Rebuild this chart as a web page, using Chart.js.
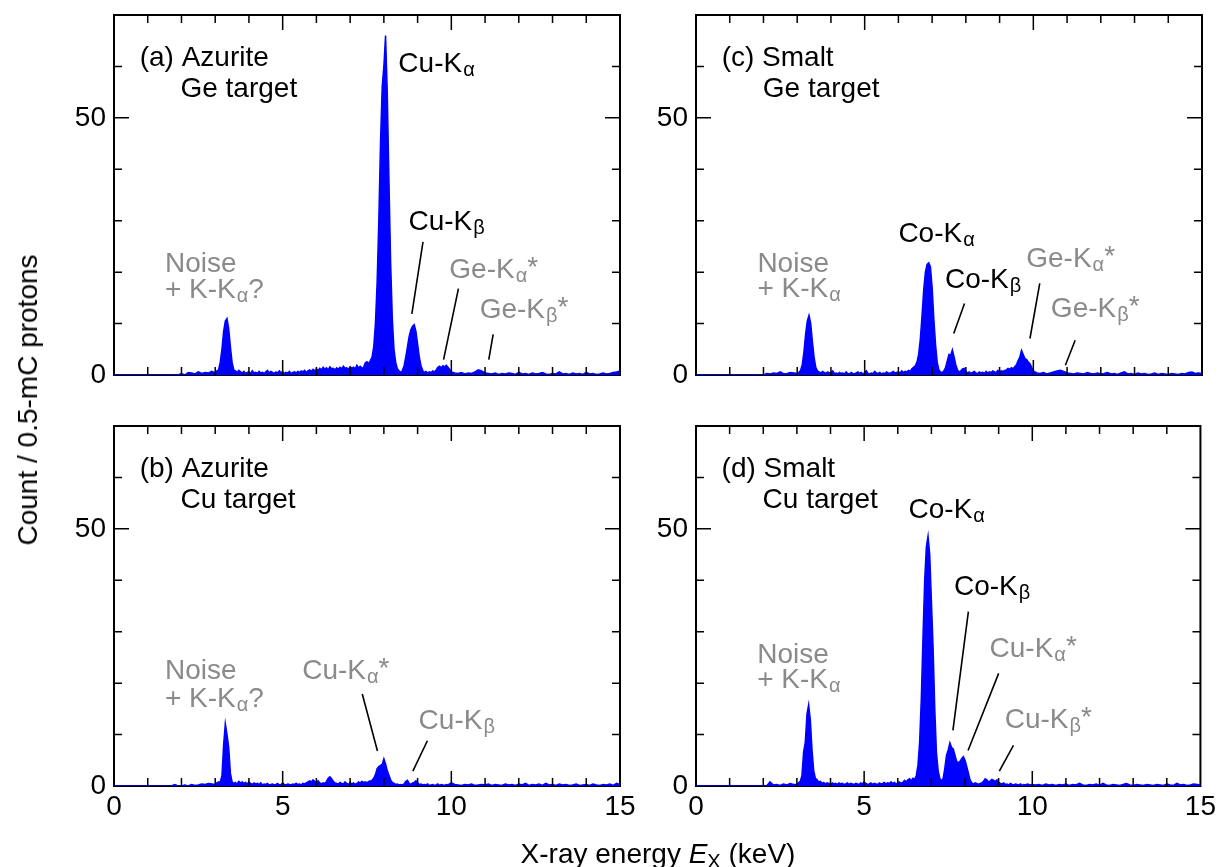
<!DOCTYPE html>
<html>
<head>
<meta charset="utf-8">
<script src="https://cdn.jsdelivr.net/npm/chart.js@4.4.1/dist/chart.umd.min.js"></script>
<style>
  html, body { margin:0; padding:0; background:#fff; }
  body { width:1220px; height:867px; position:relative; overflow:hidden; font-family:"Liberation Sans", Arial, sans-serif; }
  canvas { position:absolute; }
  #ytitle { position:absolute; left:28px; top:400px; transform:translate(-50%,-50%) rotate(-90deg); white-space:nowrap; font-size:28px; line-height:28px; color:#000; }
  #xtitle { position:absolute; left:658px; top:840px; transform:translateX(-50%); white-space:nowrap; font-size:28px; line-height:28px; color:#000; }
  #xtitle sub { font-size:20px; vertical-align:-5px; line-height:0; }
</style>
</head>
<body>
<canvas id="pa" width="650" height="440" style="left:0px;top:-20px;width:650px;height:440px"></canvas>
<canvas id="pc" width="580" height="440" style="left:640px;top:-20px;width:580px;height:440px"></canvas>
<canvas id="pb" width="650" height="467" style="left:0px;top:400px;width:650px;height:467px"></canvas>
<canvas id="pd" width="580" height="467" style="left:640px;top:400px;width:580px;height:467px"></canvas>
<div id="ytitle">Count / 0.5-mC protons</div>
<div id="xtitle">X-ray energy <i>E</i><sub>X</sub> (keV)</div>
<script>
// ---------- DATA ----------
const xTickLabels = [0, 5, 10, 15];
const yTickLabels = [0, 50];

// shared energy grid (keV)
const energy = [
  0,0.1,0.2,0.3,0.4,0.5,0.6,0.7,0.8,0.9,
  1,1.1,1.2,1.3,1.4,1.5,1.6,1.7,1.8,1.9,
  2,2.1,2.2,2.3,2.4,2.5,2.6,2.7,2.8,2.9,
  3,3.05,3.1,3.15,3.2,3.25,3.3,3.35,3.4,3.45,3.5,3.55,3.6,3.65,3.7,3.75,3.8,3.85,3.9,3.95,
  4,4.05,4.1,4.15,4.2,4.25,4.3,4.35,4.4,4.45,4.5,4.55,4.6,4.65,4.7,4.75,4.8,4.85,4.9,4.95,
  5,5.05,5.1,5.15,5.2,5.25,5.3,5.35,5.4,5.45,5.5,5.55,5.6,5.65,5.7,5.75,5.8,5.85,5.9,5.95,
  6,6.05,6.1,6.15,6.2,6.25,6.3,6.35,6.4,6.45,6.5,6.55,6.6,6.65,6.7,6.75,6.8,6.85,6.9,6.95,
  7,7.05,7.1,7.15,7.2,7.25,7.3,7.35,7.4,7.45,7.5,7.55,7.6,7.65,7.7,7.75,7.8,7.85,7.9,7.95,
  8,8.05,8.1,8.15,8.2,8.25,8.3,8.35,8.4,8.45,8.5,8.55,8.6,8.65,8.7,8.75,8.8,8.85,8.9,8.95,
  9,9.05,9.1,9.15,9.2,9.25,9.3,9.35,9.4,9.45,9.5,9.55,9.6,9.65,9.7,9.75,9.8,9.85,9.9,9.95,
  10,
  10.1,10.2,10.3,10.4,10.5,10.6,10.7,10.8,10.9,11,
  11.1,11.2,11.3,11.4,11.5,11.6,11.7,11.8,11.9,12,
  12.1,12.2,12.3,12.4,12.5,12.6,12.7,12.8,12.9,13,
  13.1,13.2,13.3,13.4,13.5,13.6,13.7,13.8,13.9,14,
  14.1,14.2,14.3,14.4,14.5,14.6,14.7,14.8,14.9,15
];

// (a) Azurite, Ge target
const countsA = [
  0,0,0,0,0,0,0,0,0,0,
  0,0,0,0,0,0,0,0,0,0,
  0.3,0,0.5,0.4,0.2,0.6,0.3,0.5,0.4,0.7,
  0.4,0.8,1.0,2.5,5.0,8.5,10.5,11.0,9.0,5.5,2.5,1.0,0.8,0.5,0.9,0.6,0.4,0.7,0.3,0.5,
  0.6,0.3,0.8,0.4,0.5,0.3,0.7,0.4,0.5,0.3,0.6,0.9,0.4,0.7,0.5,0.3,0.6,0.4,0.8,0.5,
  0.6,0.3,0.5,0.4,0.7,0.3,0.5,0.6,0.4,0.7,0.5,0.8,0.6,0.9,0.5,0.8,1.0,0.7,1.1,0.8,
  1.2,0.9,1.3,1.0,1.5,1.1,1.4,1.0,1.6,1.2,1.3,1.0,1.4,1.1,1.5,1.2,1.7,1.3,1.4,1.1,
  1.6,1.3,1.5,1.2,1.9,1.4,1.7,1.3,1.5,2.4,2.6,2.2,2.8,3.5,5.5,10.0,18.0,30.0,45.0,56.0,
  60.0,66.0,55.0,38.0,22.0,11.0,5.0,2.5,1.2,0.8,0.5,0.9,1.8,3.5,5.5,7.5,8.8,9.5,9.8,8.5,
  6.0,3.5,1.8,0.9,0.5,0.7,0.4,0.6,0.5,0.8,0.6,1.0,1.5,1.7,1.4,1.8,1.6,1.9,1.5,1.1,
  0.6,
  0.4,0.3,0.5,0.2,0.4,0.3,0.6,1.0,0.8,0.4,
  0.3,0.2,0.4,0.1,0.3,0.2,0.4,0.3,0.1,0.5,
  0.2,0.3,0.1,0.4,0.2,0.3,0.5,0.2,0.1,0.3,
  0.2,0.6,0.2,0.3,0.1,0.4,0.2,0.3,0.1,0.5,
  0.2,0.3,0.1,0.2,0.4,0.2,0.3,0.5,0.6,0.8
];

// (b) Azurite, Cu target
const countsB = [
  0,0,0,0,0,0,0,0,0,0,
  0,0,0,0,0,0,0,0,0.3,0,
  0,0.2,0,0.3,0.1,0.2,0.4,0.3,0.5,0.4,
  0.3,0.6,0.8,0.8,2.0,8.0,12.1,10.0,7.5,2.5,0.8,0.5,0.7,0.4,0.9,0.6,0.8,0.5,0.7,0.4,
  0.8,0.5,0.3,0.6,0.4,0.5,0.3,0.6,0.2,0.4,0.3,0.5,0.2,0.3,0.4,0.2,0.3,0.5,0.2,0.3,
  0.6,0.3,0.2,0.4,0.3,0.2,0.4,0.3,0.5,0.3,0.4,0.2,0.5,0.4,0.6,0.8,1.0,0.8,1.2,0.9,
  0.7,1.0,0.6,0.4,0.6,0.5,0.9,1.5,1.8,1.4,0.9,0.6,0.5,0.4,0.7,0.5,0.4,0.8,0.5,0.3,
  0.7,0.4,0.6,0.3,0.5,0.8,0.6,0.9,0.7,0.8,0.6,0.9,1.0,1.1,1.5,2.2,3.4,3.8,4.0,4.2,
  5.3,4.3,3.0,2.1,1.2,0.7,0.5,0.3,0.4,0.2,0.3,0.2,0.4,0.9,1.1,0.5,0.3,0.6,0.7,1.0,
  0.6,0.3,0.4,0.2,0.3,0.2,0.4,0.1,0.2,0.3,0.1,0.2,0.4,0.1,0.3,0.2,0.1,0.3,0.2,0.4,
  0.6,
  0.3,0.2,0.1,0.3,0.2,0.4,0.1,0.2,0.3,0.2,
  0.4,0.1,0.3,0.2,0.1,0.4,0.2,0.3,0.1,0.4,
  0.2,0.5,0.1,0.3,0.2,0.4,0.1,0.5,0.2,0.3,
  0.1,0.4,0.2,0.3,0.1,0.2,0.4,0.1,0.2,0.3,
  0.1,0.4,0.2,0.1,0.3,0.2,0.4,0.1,0.5,0.3
];

// (c) Smalt, Ge target
const countsC = [
  0,0,0,0,0,0,0,0,0,0,
  0,0,0,0,0,0,0,0,0,0,
  0,0.3,0.2,0.4,0.3,0.6,0.2,0.3,0.5,0.4,
  0.3,0.5,0.9,2.0,4.5,8.0,10.5,11.6,10.0,6.5,3.5,1.5,0.8,0.6,0.4,0.7,0.5,0.3,0.6,0.4,
  0.5,0.8,0.3,0.4,0.2,0.5,0.3,0.4,0.2,0.6,0.3,0.2,0.5,0.3,0.2,0.4,0.6,0.3,0.5,0.2,
  0.4,0.8,0.3,0.2,0.4,0.3,0.7,0.4,0.3,0.5,0.2,0.4,0.3,0.6,0.4,0.3,0.5,0.7,0.4,0.5,
  0.6,0.4,0.8,0.5,0.7,0.6,0.9,0.7,1.2,1.5,1.8,2.5,4.0,7.0,11.5,16.5,20.0,21.5,21.8,21.0,
  17.0,11.0,6.0,2.5,1.0,0.6,0.5,0.8,1.5,2.8,4.0,3.8,4.9,3.5,2.0,1.0,0.6,0.8,1.2,1.3,
  0.7,0.4,0.6,0.3,0.5,0.7,0.4,0.3,0.6,0.4,0.5,0.3,0.7,0.4,0.6,0.5,0.8,0.6,0.5,0.9,
  0.6,0.8,0.7,0.9,1.0,1.3,1.1,1.4,1.2,1.6,2.0,2.8,3.5,4.8,4.0,3.2,3.0,2.5,2.2,1.5,
  0.8,
  0.4,0.3,0.5,0.2,0.4,0.6,0.8,0.9,0.7,0.4,
  0.3,0.2,0.4,0.3,0.2,0.5,0.3,0.2,0.4,0.2,
  0.3,0.5,0.2,0.3,0.1,0.4,0.6,0.2,0.3,0.1,
  0.4,0.2,0.3,0.1,0.2,0.4,0.1,0.3,0.2,0.1,
  0.3,0.2,0.1,0.3,0.2,0.5,0.6,0.3,0.4,0.3
];

// (d) Smalt, Cu target
const countsD = [
  0,0,0,0,0,0,0,0,0,0,
  0,0,0,0,0,0,0,0,0,0,
  0,0,0.8,0.2,0.3,0.1,0.4,0.2,0.5,0.3,
  0.3,0.6,0.9,2.0,6.6,8.5,14.0,15.8,12.8,7.0,3.0,1.5,1.2,0.8,0.9,0.5,0.7,0.4,0.6,0.5,
  0.3,0.6,0.4,0.5,0.3,0.6,0.4,0.5,0.3,0.4,0.6,0.3,0.5,0.4,0.3,0.5,0.4,0.3,0.6,0.4,
  0.8,0.5,0.3,0.4,0.6,0.3,0.5,0.4,0.3,0.6,0.4,0.5,0.7,0.4,0.6,0.5,0.8,0.5,0.7,0.4,
  0.6,0.8,0.5,0.7,1.1,0.8,1.2,1.4,1.0,1.5,1.3,2.0,4.0,8.5,17.0,29.0,40.0,46.5,48.6,45.0,
  36.0,27.0,15.0,6.5,3.0,1.5,1.0,1.5,3.5,6.0,7.0,8.4,7.5,7.2,6.0,4.8,4.5,4.8,5.3,5.7,
  5.0,3.8,2.5,1.2,0.6,0.4,0.6,0.5,0.3,0.5,0.6,0.9,1.4,1.2,0.8,1.0,1.3,1.1,0.9,1.2,
  0.7,0.5,0.4,0.6,0.3,0.4,0.2,0.5,0.3,0.2,0.4,0.3,0.2,0.4,0.1,0.3,0.2,0.4,0.3,0.2,
  0.3,
  0.2,0.3,0.1,0.4,0.2,0.3,0.1,0.3,0.2,0.4,
  0.1,0.3,0.2,0.5,0.2,0.1,0.3,0.2,0.4,0.1,
  0.5,0.2,0.1,0.3,0.2,0.1,0.3,0.5,0.2,0.1,
  0.3,0.2,0.1,0.3,0.2,0.1,0.3,0.2,0.1,0.4,
  0.2,0.1,0.5,0.2,0.3,0.1,0.2,0.4,0.3,0.2
];

// annotations: text, subscript, suffix, anchor energy, anchor count (baseline-left), colour
const BLACK = '#000000', GRAY = '#8a8a8a';
const notesA = [
  {t:'(a) Azurite', e:0.76, c:60.0, col:BLACK},
  {t:'Ge target', e:1.97, c:54.0, col:BLACK},
  {t:'Cu-K', sub:'α', e:8.43, c:59.0, col:BLACK},
  {t:'Cu-K', sub:'β', e:8.73, c:28.2, col:BLACK},
  {t:'Noise', e:1.51, c:20.1, col:GRAY},
  {t:'+ K-K', sub:'α', suf:'?', e:1.51, c:15.0, col:GRAY},
  {t:'Ge-K', sub:'α', suf:'*', e:9.94, c:18.9, col:GRAY},
  {t:'Ge-K', sub:'β', suf:'*', e:10.84, c:11.0, col:GRAY}
];
const linesA = [[9.16,25.9,8.83,11.9],[10.21,16.8,9.77,3.0],[11.24,7.9,11.11,3.0]];

const notesB = [
  {t:'(b) Azurite', e:0.76, c:60.1, col:BLACK},
  {t:'Cu target', e:1.97, c:54.0, col:BLACK},
  {t:'Noise', e:1.51, c:20.9, col:GRAY},
  {t:'+ K-K', sub:'α', suf:'?', e:1.51, c:15.3, col:GRAY},
  {t:'Cu-K', sub:'α', suf:'*', e:5.58, c:20.9, col:GRAY},
  {t:'Cu-K', sub:'β', e:9.03, c:11.0, col:GRAY}
];
const linesB = [[7.36,17.9,7.81,6.8],[9.29,8.8,8.86,2.9]];

const notesC = [
  {t:'(c) Smalt', e:0.76, c:60.0, col:BLACK},
  {t:'Ge target', e:1.98, c:54.0, col:BLACK},
  {t:'Noise', e:1.82, c:20.1, col:GRAY},
  {t:'+ K-K', sub:'α', e:1.82, c:15.1, col:GRAY},
  {t:'Co-K', sub:'α', e:6.0, c:25.9, col:BLACK},
  {t:'Co-K', sub:'β', e:7.38, c:17.0, col:BLACK},
  {t:'Ge-K', sub:'α', suf:'*', e:9.79, c:21.0, col:GRAY},
  {t:'Ge-K', sub:'β', suf:'*', e:10.52, c:11.2, col:GRAY}
];
const linesC = [[7.96,13.9,7.64,8.05],[10.19,17.8,9.90,7.1],[11.24,6.75,10.95,1.9]];

const notesD = [
  {t:'(d) Smalt', e:0.76, c:60.1, col:BLACK},
  {t:'Cu target', e:1.98, c:54.0, col:BLACK},
  {t:'Co-K', sub:'α', e:6.32, c:52.1, col:BLACK},
  {t:'Co-K', sub:'β', e:7.67, c:37.1, col:BLACK},
  {t:'Noise', e:1.82, c:24.0, col:GRAY},
  {t:'+ K-K', sub:'α', e:1.82, c:19.0, col:GRAY},
  {t:'Cu-K', sub:'α', suf:'*', e:8.73, c:25.0, col:GRAY},
  {t:'Cu-K', sub:'β', suf:'*', e:9.18, c:11.2, col:GRAY}
];
const linesD = [[8.10,33.9,7.64,10.8],[9.0,21.9,8.09,6.9],[9.44,7.9,9.02,2.9]];

// ---------- DRAWING ----------
const FONT = '"Liberation Sans", Arial, sans-serif';
Chart.defaults.font.family = FONT;
Chart.defaults.color = '#000';

const framePlugin = {
  id: 'frame',
  beforeDatasetsDraw(chart) {
    const {ctx, chartArea: a} = chart;
    ctx.save();
    ctx.strokeStyle = '#000';
    ctx.lineWidth = 2;
    ctx.strokeRect(a.left, a.top, a.right - a.left, a.bottom - a.top);
    ctx.restore();
  },
  afterDatasetsDraw(chart, args, opts) {
    const {ctx, chartArea: a, scales: {x, y}} = chart;
    ctx.save();
    ctx.strokeStyle = '#000';
    ctx.lineWidth = 1.5;
    ctx.beginPath();
    x.ticks.forEach(t => {
      const px = x.getPixelForValue(t.value);
      if (px <= a.left + 1 || px >= a.right - 1) return;
      const len = (t.value % 5 === 0) ? 15 : 8;
      ctx.moveTo(px, a.bottom); ctx.lineTo(px, a.bottom - len);
      ctx.moveTo(px, a.top); ctx.lineTo(px, a.top + len);
    });
    y.ticks.forEach(t => {
      const py = y.getPixelForValue(t.value);
      if (py <= a.top + 1 || py >= a.bottom - 1) return;
      const len = (t.value % 50 === 0) ? 15 : 8;
      ctx.moveTo(a.left, py); ctx.lineTo(a.left + len, py);
      ctx.moveTo(a.right, py); ctx.lineTo(a.right - len, py);
    });
    ctx.stroke();
    // leader lines
    ctx.lineWidth = 1.6;
    ctx.beginPath();
    (opts.lines || []).forEach(l => {
      ctx.moveTo(x.getPixelForValue(l[0]), y.getPixelForValue(l[1]));
      ctx.lineTo(x.getPixelForValue(l[2]), y.getPixelForValue(l[3]));
    });
    ctx.stroke();
    // labels
    ctx.textAlign = 'left';
    ctx.textBaseline = 'alphabetic';
    (opts.notes || []).forEach(n => {
      let px = x.getPixelForValue(n.e);
      const py = y.getPixelForValue(n.c);
      ctx.fillStyle = n.col;
      ctx.font = '28px ' + FONT;
      ctx.fillText(n.t, px, py);
      px += ctx.measureText(n.t).width;
      if (n.sub) {
        ctx.font = '20px ' + FONT;
        ctx.fillText(n.sub, px + 1, py + 4);
        px += ctx.measureText(n.sub).width + 1;
      }
      if (n.suf) {
        ctx.font = '28px ' + FONT;
        ctx.fillText(n.suf, px, py - (n.suf === '*' ? 2 : 0));
      }
    });
    ctx.restore();
  }
};

function makePanel(id, counts, notes, lines, showX, padTop, padRight, yWidth, xHeight) {
  const pts = energy.map((e, i) => ({x: e, y: counts[i]}));
  return new Chart(document.getElementById(id), {
    type: 'line',
    data: { datasets: [{
      data: pts,
      borderColor: '#0000ff',
      backgroundColor: '#0000ff',
      borderWidth: 1.5,
      fill: 'origin',
      pointRadius: 0,
      tension: 0
    }]},
    options: {
      responsive: false,
      animation: false,
      events: [],
      layout: { padding: { top: padTop, right: padRight, left: 0, bottom: 0 } },
      plugins: {
        legend: { display: false },
        tooltip: { enabled: false },
        frame: { notes: notes, lines: lines }
      },
      scales: {
        x: {
          type: 'linear', min: 0, max: 15,
          afterFit: s => { s.height = xHeight; },
          grid: { display: false, drawTicks: false },
          border: { display: false },
          ticks: {
            stepSize: 1, autoSkip: false, maxRotation: 0, padding: 4,
            color: '#000', font: { size: 28, family: FONT },
            callback: v => (showX && xTickLabels.includes(v)) ? String(v) : ''
          }
        },
        y: {
          type: 'linear', min: 0, max: 70,
          afterFit: s => { s.width = yWidth; },
          grid: { display: false, drawTicks: false },
          border: { display: false },
          ticks: {
            stepSize: 10, autoSkip: false, padding: 8,
            color: '#000', font: { size: 28, family: FONT },
            callback: v => yTickLabels.includes(v) ? String(v) : ''
          }
        }
      }
    },
    plugins: [framePlugin]
  });
}

makePanel('pa', countsA, notesA, linesA, false, 35, 30, 114, 45);
makePanel('pc', countsC, notesC, linesC, false, 35, 18, 56, 45);
makePanel('pb', countsB, notesB, linesB, true, 26, 30, 114, 81);
makePanel('pd', countsD, notesD, linesD, true, 26, 18, 56, 81);
</script>
</body>
</html>
